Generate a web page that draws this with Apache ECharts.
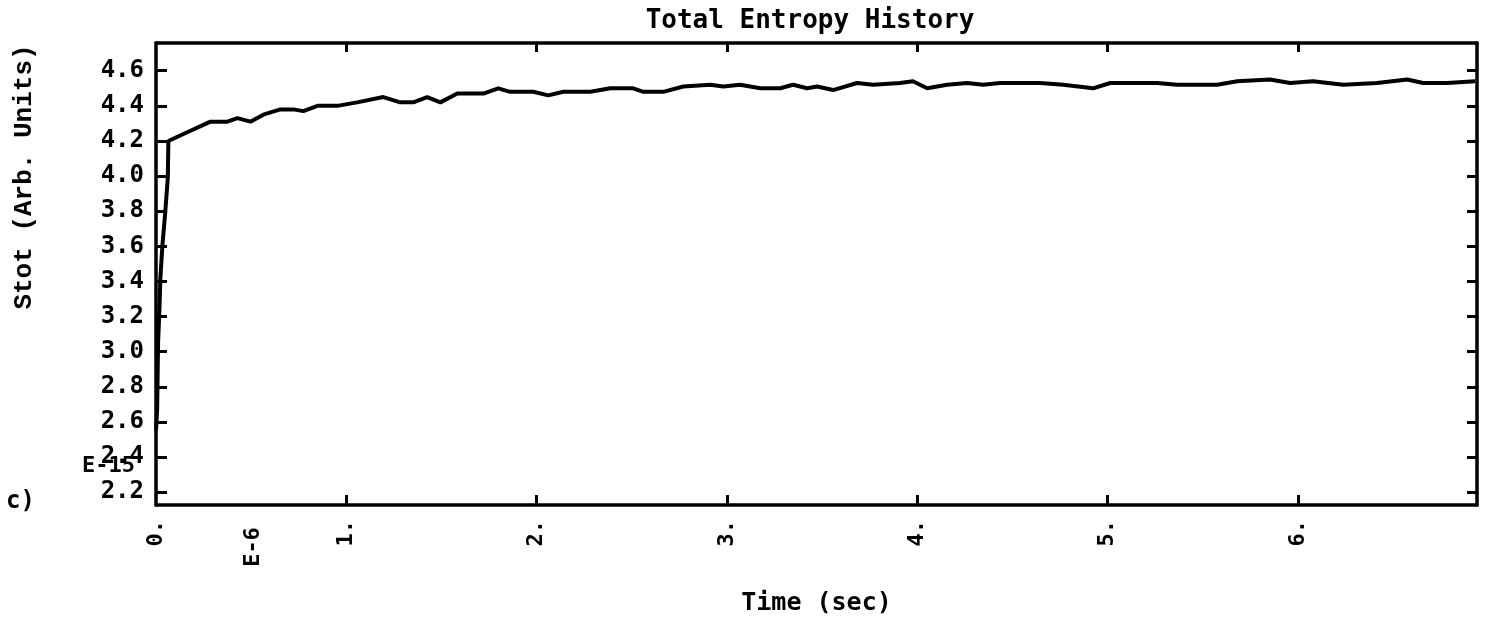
<!DOCTYPE html>
<html>
<head>
<meta charset="utf-8">
<script src="https://cdn.jsdelivr.net/npm/echarts@6/dist/echarts.min.js"></script>
<style>
html,body{margin:0;padding:0;background:#fff;}
#chart{width:1491px;height:621px;}
</style>
</head>
<body>
<div id="chart"></div>
<script>
// ---- data ----
const times = [0, 0.006, 0.011, 0.018, 0.023, 0.034, 0.049, 0.062, 0.065,
  0.144, 0.286, 0.375, 0.428, 0.496, 0.564, 0.653, 0.722, 0.774, 0.848, 0.952,
  1.057, 1.194, 1.283, 1.352, 1.425, 1.494, 1.583, 1.720, 1.798, 1.861, 1.982,
  2.061, 2.140, 2.229, 2.282, 2.387, 2.507, 2.560, 2.665, 2.770, 2.912, 2.980,
  3.069, 3.174, 3.279, 3.347, 3.421, 3.473, 3.557, 3.683, 3.767, 3.909, 3.977,
  4.051, 4.156, 4.261, 4.345, 4.435, 4.555, 4.645, 4.766, 4.923, 5.013, 5.260,
  5.365, 5.575, 5.680, 5.853, 5.958, 6.079, 6.237, 6.415, 6.573, 6.657, 6.783, 6.930];
const entropy = [2.55, 2.67, 3.05, 3.24, 3.42, 3.61, 3.80, 3.99, 4.20,
  4.24, 4.31, 4.31, 4.33, 4.31, 4.35, 4.38, 4.38, 4.37, 4.40, 4.40,
  4.42, 4.45, 4.42, 4.42, 4.45, 4.42, 4.47, 4.47, 4.50, 4.48, 4.48,
  4.46, 4.48, 4.48, 4.48, 4.50, 4.50, 4.48, 4.48, 4.51, 4.52, 4.51,
  4.52, 4.50, 4.50, 4.52, 4.50, 4.51, 4.49, 4.53, 4.52, 4.53, 4.54,
  4.50, 4.52, 4.53, 4.52, 4.53, 4.53, 4.53, 4.52, 4.50, 4.53, 4.53,
  4.52, 4.52, 4.54, 4.55, 4.53, 4.54, 4.52, 4.53, 4.55, 4.53, 4.53, 4.54];
const xTickValues = [0, 1, 2, 3, 4, 5, 6];
const yTickValues = [2.2, 2.4, 2.6, 2.8, 3.0, 3.2, 3.4, 3.6, 3.8, 4.0, 4.2, 4.4, 4.6];
const titleText = 'Total Entropy History';
const xName = 'Time (sec)';
const yName = 'Stot (Arb. Units)';

const seriesData = times.map((t, i) => [t, entropy[i]]);
const mono = 'DejaVu Sans Mono';
const lineStyle = {color: '#000', width: 3.5};
const tickStyle = {color: '#000', width: 3};

const chart = echarts.init(document.getElementById('chart'), null, {renderer: 'canvas'});
chart.setOption({
  backgroundColor: '#fff',
  animation: false,
  title: {
    text: titleText, left: 810, top: 8, textAlign: 'center', padding: 0,
    textStyle: {fontFamily: mono, fontWeight: 'bold', fontSize: 26, color: '#000'}
  },
  grid: {left: 156, right: 14, top: 43, bottom: 111, containLabel: false},
  xAxis: [{
    type: 'value', min: 0, max: 6.94, interval: 1, position: 'bottom',
    name: xName, nameLocation: 'middle', nameGap: 86,
    nameTextStyle: {fontFamily: mono, fontWeight: 'bold', fontSize: 25, color: '#000'},
    axisLine: {show: true, onZero: false, lineStyle: lineStyle},
    axisTick: {show: true, inside: true, length: 10, lineStyle: tickStyle, customValues: xTickValues.slice(1)},
    axisLabel: {show: true, rotate: 90, margin: 15, customValues: xTickValues,
      formatter: v => Math.round(v) + '.',
      fontFamily: mono, fontWeight: 'bold', fontSize: 22, color: '#000'},
    splitLine: {show: false}
  }, {
    type: 'value', min: 0, max: 6.94, interval: 1, position: 'top',
    axisLine: {show: true, onZero: false, lineStyle: lineStyle},
    axisTick: {show: true, inside: true, length: 9, lineStyle: tickStyle, customValues: xTickValues.slice(1)},
    axisLabel: {show: false},
    splitLine: {show: false}
  }],
  yAxis: [{
    type: 'value', min: 2.127, max: 4.758, position: 'left',
    axisLine: {show: true, onZero: false, lineStyle: lineStyle},
    axisTick: {show: true, inside: true, length: 11, lineStyle: tickStyle, customValues: yTickValues},
    axisLabel: {show: true, margin: 12, customValues: yTickValues,
      formatter: v => v.toFixed(1),
      fontFamily: mono, fontWeight: 'bold', fontSize: 24, color: '#000'},
    splitLine: {show: false}
  }, {
    type: 'value', min: 2.127, max: 4.758, position: 'right',
    axisLine: {show: true, onZero: false, lineStyle: lineStyle},
    axisTick: {show: true, inside: true, length: 10, lineStyle: tickStyle, customValues: yTickValues},
    axisLabel: {show: false},
    splitLine: {show: false}
  }],
  graphic: [
    {type: 'text', x: 24, y: 177, rotation: Math.PI / 2,
      style: {text: yName, font: 'bold 26px "Liberation Mono"', fill: '#000', textAlign: 'center', textVerticalAlign: 'middle'}},
    {type: 'text', x: 253, y: 547, rotation: Math.PI / 2,
      style: {text: 'E-6', font: 'bold 22px "DejaVu Sans Mono"', fill: '#000', textAlign: 'center', textVerticalAlign: 'middle'}},
    {type: 'text', x: 82, y: 466,
      style: {text: 'E-15', font: 'bold 22px "DejaVu Sans Mono"', fill: '#000', textAlign: 'left', textVerticalAlign: 'middle'}},
    {type: 'text', x: 6, y: 502,
      style: {text: 'c)', font: 'bold 24px "DejaVu Sans Mono"', fill: '#000', textAlign: 'left', textVerticalAlign: 'middle'}}
  ],
  series: [{
    type: 'line', xAxisIndex: 0, yAxisIndex: 0, data: seriesData,
    showSymbol: false, symbol: 'none', smooth: false,
    lineStyle: {color: '#000', width: 4}, clip: true
  }]
});
</script>
</body>
</html>
